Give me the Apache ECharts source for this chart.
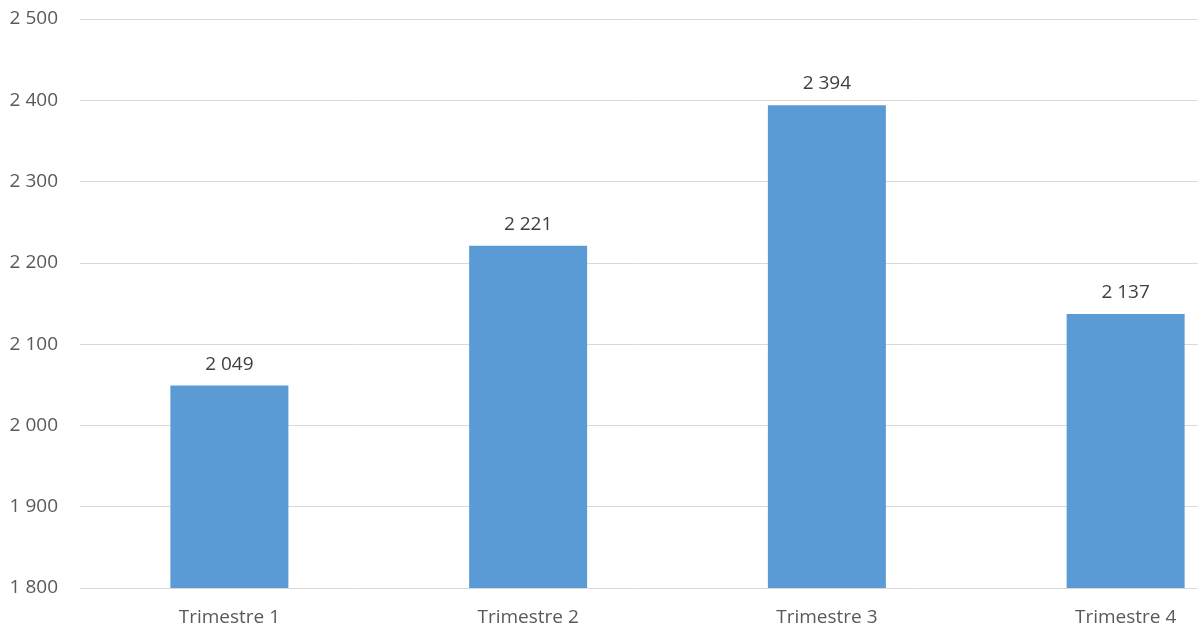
<!DOCTYPE html>
<html>
<head>
<meta charset="utf-8">
<script src="https://cdn.jsdelivr.net/npm/echarts@6/dist/echarts.min.js"></script>
<style>
  html, body { margin: 0; padding: 0; background: #fff; }
  #chart { width: 1198px; height: 631px; }
</style>
</head>
<body>
<div id="chart"></div>
<script>
const categories = ['Trimestre 1', 'Trimestre 2', 'Trimestre 3', 'Trimestre 4'];
const values = [2049, 2221, 2394, 2137];

// french style thousands: "2 049"
function fmt(v) {
  return String(v).replace(/\B(?=(\d{3})+(?!\d))/g, ' ');
}

const chart = echarts.init(document.getElementById('chart'));
chart.setOption({
  animation: false,
  textStyle: { fontFamily: 'Open Sans, sans-serif' },
  grid: {
    left: 80, top: 19, right: -77, bottom: 43,
    outerBoundsMode: 'none'
  },
  xAxis: {
    type: 'category',
    data: categories,
    axisLine: { show: false },
    axisTick: { show: false },
    axisLabel: { color: '#595959', fontSize: 19, margin: 20 }
  },
  yAxis: {
    type: 'value',
    min: 1800,
    max: 2500,
    interval: 100,
    axisLine: { show: false },
    axisTick: { show: false },
    splitLine: { lineStyle: { color: '#d9d9d9', width: 1 } },
    axisLabel: {
      color: '#595959', fontSize: 19, margin: 22,
      formatter: fmt
    }
  },
  series: [{
    type: 'bar',
    data: values,
    barWidth: 118,
    itemStyle: { color: '#5b9bd5' },
    label: {
      show: true,
      position: 'top',
      distance: 12,
      color: '#404040',
      fontSize: 19,
      formatter: p => fmt(p.value)
    }
  }]
});
</script>
</body>
</html>
